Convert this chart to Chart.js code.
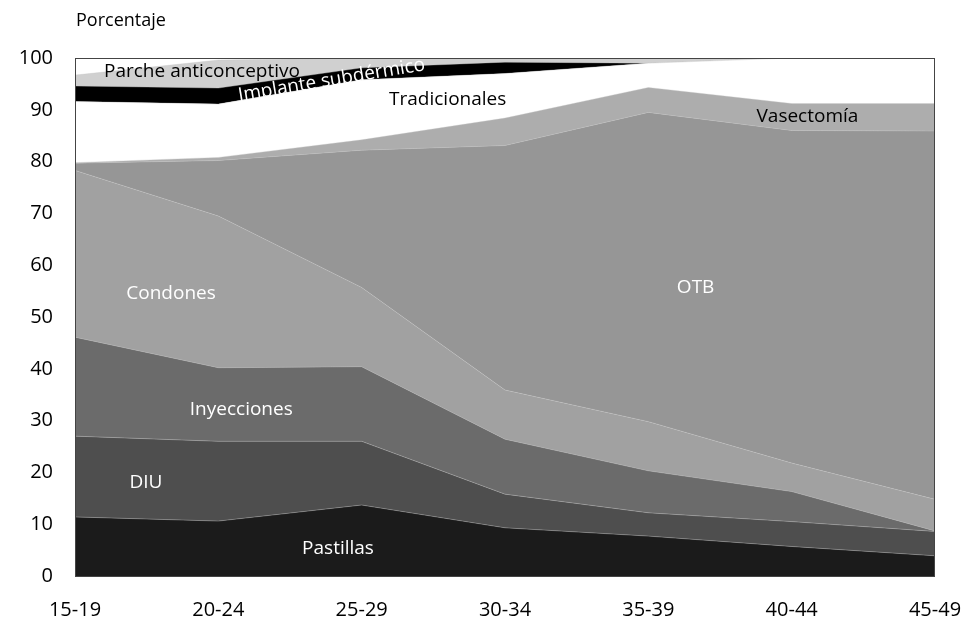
<!DOCTYPE html>
<html>
<head>
<meta charset="utf-8">
<script src="https://cdn.jsdelivr.net/npm/chart.js@4"></script>
<style>
html,body{margin:0;padding:0;background:#fff;}
canvas{display:block;}
</style>
</head>
<body>
<canvas id="c" width="962" height="623"></canvas>
<script>
const categories = ['15-19','20-24','25-29','30-34','35-39','40-44','45-49'];
const yTicks = [0,10,20,30,40,50,60,70,80,90,100];

const pastillas     = [11.4, 10.6, 13.7, 9.3, 7.7, 5.7, 3.9];
const diu           = [15.6, 15.4, 12.3, 6.5, 4.5, 4.8, 4.7];
const inyecciones   = [19.1, 14.2, 14.4, 10.6, 8.1, 5.8, 0.1];
const condones      = [32.2, 29.3, 15.3, 9.5, 9.5, 5.5, 6.1];
const otb           = [1.4, 10.7, 26.5, 47.2, 59.7, 64.2, 71.1];
const vasectomia    = [0.1, 0.6, 2.0, 5.3, 4.8, 5.2, 5.3];
const tradicionales = [11.8, 10.3, 11.6, 8.6, 4.7, 8.8, 8.8];
const implante      = [3.0, 3.1, 2.3, 2.2, 0.0, 0.0, 0.0];
const parche        = [2.1, 5.4, 1.9, 0.8, 1.0, 0.0, 0.0];

const seriesNames = ['Pastillas','DIU','Inyecciones','Condones','OTB','Vasectomía','Tradicionales','Implante subdérmico','Parche anticonceptivo'];
const seriesData = [pastillas, diu, inyecciones, condones, otb, vasectomia, tradicionales, implante, parche];
const seriesColors = ['#1b1b1b','#4e4e4e','#6b6b6b','#a1a1a1','#969696','#adadad','#ffffff','#000000','#d0d0d0'];

// label positions in data units: [text, category index (fractional), value, color, rotation deg]
const labelSpecs = [
  ['Parche anticonceptivo', 0.886, 97.3, '#000', 0],
  ['Implante subdérmico', 1.79, 95.7, '#fff', -9.5],
  ['Tradicionales', 2.6, 91.9, '#000', 0],
  ['Vasectomía', 5.11, 88.6, '#000', 0],
  ['OTB', 4.33, 55.6, '#fff', 0],
  ['Condones', 0.67, 54.6, '#fff', 0],
  ['Inyecciones', 1.16, 32.2, '#fff', 0],
  ['DIU', 0.495, 18.0, '#fff', 0],
  ['Pastillas', 1.835, 5.2, '#fff', 0]
];

const FONT = "'Open Sans', 'DejaVu Sans', sans-serif";

const datasets = seriesData.map((d, i) => ({
  label: seriesNames[i],
  data: d,
  backgroundColor: seriesColors[i],
  borderColor: 'rgba(200,200,200,0.45)',
  borderWidth: 0.8,
  pointRadius: 0,
  pointHoverRadius: 0,
  tension: 0,
  fill: i === 0 ? 'origin' : '-1'
}));

const decor = {
  id: 'decor',
  afterDatasetsDraw(chart) {
    const {ctx, chartArea: a, scales} = chart;
    ctx.save();
    ctx.strokeStyle = '#444';
    ctx.lineWidth = 1;
    ctx.strokeRect(a.left + 0.5, a.top + 0.5, a.right - a.left - 1, a.bottom - a.top);
    ctx.font = "19px " + FONT;
    ctx.textAlign = 'center';
    ctx.textBaseline = 'middle';
    labelSpecs.forEach(([t, xi, v, col, rot]) => {
      const x = scales.x.getPixelForValue(xi);
      const y = scales.y.getPixelForValue(v);
      ctx.save();
      ctx.translate(x, y);
      ctx.rotate(rot * Math.PI / 180);
      ctx.fillStyle = col;
      ctx.fillText(t, 0, 0);
      ctx.restore();
    });
    ctx.fillStyle = '#000';
    ctx.textAlign = 'left';
    ctx.font = "18px " + FONT;
    ctx.fillText('Porcentaje', 76, 21);
    ctx.restore();
  }
};

new Chart(document.getElementById('c'), {
  type: 'line',
  data: { labels: categories, datasets },
  options: {
    responsive: false,
    animation: false,
    layout: { padding: { top: 58, right: 27, left: 0, bottom: 0 } },
    plugins: { legend: { display: false }, tooltip: { enabled: false }, title: { display: false } },
    scales: {
      x: {
        offset: false,
        grid: { display: false, drawTicks: false },
        border: { display: false },
        ticks: { color: '#000', font: { size: 20, family: FONT }, padding: 22, maxRotation: 0, autoSkip: false },
        afterFit(s) { s.height = 47; s.paddingLeft = 0; s.paddingRight = 0; }
      },
      y: {
        stacked: true,
        min: 0, max: 100,
        grid: { display: false, drawTicks: false },
        border: { display: false },
        afterBuildTicks(s) { s.ticks = yTicks.map(v => ({ value: v })); },
        ticks: { color: '#000', font: { size: 20, family: FONT }, padding: 22 },
        afterFit(s) { s.width = 75; s.paddingTop = 0; s.paddingBottom = 0; }
      }
    }
  },
  plugins: [decor]
});
</script>
</body>
</html>
